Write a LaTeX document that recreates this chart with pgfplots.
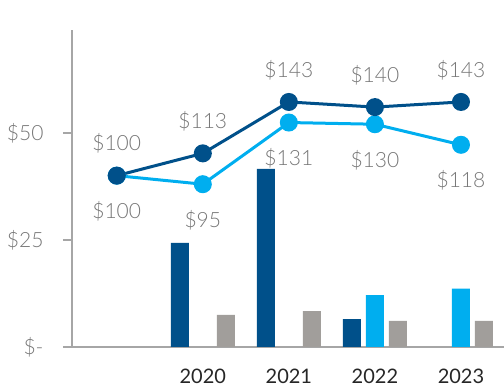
\documentclass[border=0pt]{standalone}
\usepackage{pgfplots}
\pgfplotsset{compat=1.18}
\usepackage{fontspec}
\setmainfont{Lato Light}
\newfontfamily\yearfont{Lato}
\definecolor{dkblue}{HTML}{00508A}
\definecolor{ltblue}{HTML}{00AEEF}
\definecolor{bargray}{HTML}{A19E9B}
\definecolor{axgray}{HTML}{A6A6A6}
\definecolor{lblgray}{HTML}{767676}
\begin{document}
\begin{tikzpicture}
\useasboundingbox (-72pt,-43pt) rectangle (432pt,347pt);
\begin{axis}[
  at={(0,0)}, anchor=south west,
  scale only axis, width=432pt, height=317pt,
  xmin=-0.52, xmax=4.5, ymin=0, ymax=74,
  axis lines=left, axis line style={-, draw=axgray, line width=1.5pt},
  xtick={1,2,3,4}, xticklabels={2020,2021,2022,2023},
  major x tick style={draw=none},
  ytick={0,25,50}, yticklabels={\$-,\$25,\$50},
  tick align=outside, major tick length=9pt,
  y tick style={draw=axgray, line width=1.5pt},
  yticklabel style={anchor=east, font=\fontsize{21}{23}\selectfont, text=lblgray, xshift=-16pt},
  xticklabel style={anchor=center, font=\yearfont\fontsize{20}{22}\selectfont, text=black!85, yshift=-20pt},
  clip=false,
]
\addplot[ybar, bar width=18pt, bar shift=-23pt, fill=dkblue, draw=none]
  coordinates {(1,24.3) (2,41.6) (3,6.5)};
\addplot[ybar, bar width=18pt, bar shift=0pt, fill=ltblue, draw=none]
  coordinates {(3,12.1) (4,13.6)};
\addplot[ybar, bar width=18pt, bar shift=23pt, fill=bargray, draw=none]
  coordinates {(1,7.5) (2,8.4) (3,6.1) (4,6.1)};
\end{axis}
\begin{axis}[
  at={(0,0)}, anchor=south west,
  scale only axis, width=432pt, height=317pt,
  xmin=-0.52, xmax=4.5, ymin=0, ymax=185,
  hide axis, clip=false,
  nodes near coords={\$\pgfmathprintnumber[assume math mode=true]{\pgfplotspointmeta}},
  point meta=y,
]
\addplot[ltblue, line width=3pt, mark=*, mark size=7.5pt,
  every node near coord/.style={anchor=center, yshift=-36pt, text=lblgray, font=\fontsize{21}{23}\selectfont}]
  coordinates {(0,100) (1,95) (2,131) (3,130) (4,118)};
\addplot[dkblue, line width=3pt, mark=*, mark size=7.5pt,
  every node near coord/.style={anchor=center, yshift=32pt, text=lblgray, font=\fontsize{21}{23}\selectfont}]
  coordinates {(0,100) (1,113) (2,143) (3,140) (4,143)};
\end{axis}
\end{tikzpicture}
\end{document}
